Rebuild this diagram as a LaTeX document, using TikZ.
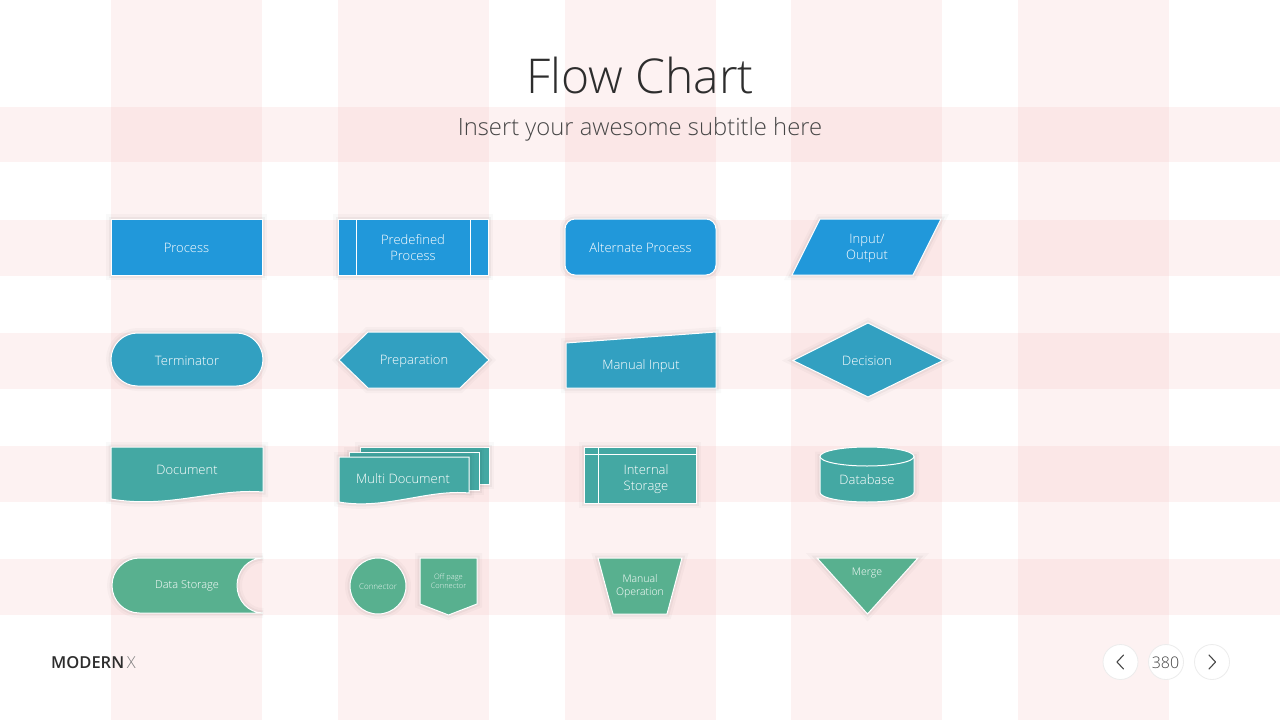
\documentclass[tikz,border=0pt]{standalone}
\usepackage{fontspec}
\IfFontExistsTF{Open Sans Light}{\setmainfont{Open Sans Light}}{\setmainfont{Open Sans}}
\IfFontExistsTF{Open Sans SemiBold}{\newfontfamily\semib{Open Sans SemiBold}}{%
  \IfFontExistsTF{Open Sans Semibold}{\newfontfamily\semib{Open Sans Semibold}}{%
    \newfontfamily\semib{Open Sans}[FakeBold=0.6]}}
\definecolor{cA}{RGB}{33,152,218}
\definecolor{cB}{RGB}{50,160,193}
\definecolor{cC}{RGB}{68,168,163}
\definecolor{cD}{RGB}{88,176,143}
\definecolor{stripe}{RGB}{246,196,196}
\definecolor{titlegray}{RGB}{45,45,45}
\definecolor{subgray}{RGB}{70,70,70}
\definecolor{ringgray}{RGB}{236,236,236}
\tikzset{
  shp/.style={fill=#1, draw=white, line width=1pt,
    preaction={draw=black, draw opacity=0.025, line width=10pt},
    preaction={draw=black, draw opacity=0.04, line width=5pt}},
  inner/.style={draw=white, line width=1pt},
  lbl/.style={text=white, font=\fontsize{13}{16}\selectfont, align=center, inner sep=0pt},
  stripefill/.style={fill=stripe, fill opacity=0.22},
  ring/.style={draw=ringgray, line width=0.8pt, fill=white},
  chev/.style={draw=subgray, line width=1.1pt, line cap=round, line join=round}
}
\begin{document}
\begin{tikzpicture}[x=1pt,y=-1pt]
\useasboundingbox (0,0) rectangle (1280,720);
\fill[white] (0,0) rectangle (1280,720);
% stripes
\foreach \a/\b in {111/262,338/489,565/716,791/942,1018/1169}
  \path[stripefill] (\a,0) rectangle (\b,720);
\foreach \a/\b in {107/162,220/276,333/389,446/502,559/615}
  \path[stripefill] (0,\a) rectangle (1280,\b);
% titles
\node[text=titlegray, font=\fontsize{48}{58}\selectfont, inner sep=0pt] (title) at (640,75) {Flow Chart};
\node[text=subgray, font=\fontsize{23.8}{28}\selectfont, inner sep=0pt] (subtitle) at (640,129) {Insert your awesome subtitle here};
% row 1
\path[shp=cA] (111,219) rectangle (262,275);
\node[lbl] (process) at (186.5,248) {Process};
\path[shp=cA] (338,219) rectangle (488,275);
\path[inner] (356,219) -- (356,275) (470,219) -- (470,275);
\node[lbl] (predef) at (413,248) {Predefined\\Process};
\path[shp=cA, rounded corners=10pt] (565,219) rectangle (716,275);
\node[lbl] (alt) at (640.5,248) {Alternate Process};
\path[shp=cA] (820,219) -- (941,219) -- (913,275) -- (792,275) -- cycle;
\node[lbl] (io) at (867,248) {Input/\\Output};
% row 2
\path[shp=cB, rounded corners=26.5pt] (111,333) rectangle (263,386);
\node[lbl] (term) at (187,361) {Terminator};
\path[shp=cB] (339,360) -- (368,332) -- (460,332) -- (489,360) -- (460,388) -- (368,388) -- cycle;
\node[lbl] (prep) at (414,361) {Preparation};
\path[shp=cB] (566,343) -- (716,332) -- (716,388) -- (566,388) -- cycle;
\node[lbl] (manin) at (641,366) {Manual Input};
\path[shp=cB] (793,360.5) -- (868,323) -- (943,360.5) -- (868,397) -- cycle;
\node[lbl] (dec) at (867,361) {Decision};
% row 3
\path[shp=cC] (111,447) -- (263,447) -- (263,492) .. controls (215,488) and (168,509) .. (111,499) -- cycle;
\node[lbl] (doc) at (187,470) {Document};
\path[shp=cC] (360,447) rectangle (489,484);
\path[shp=cC] (349,452) rectangle (479,490);
\path[shp=cC] (339,457) -- (469,457) -- (469,493) .. controls (428,489) and (385,510) .. (339,502) -- cycle;
\node[lbl] (multi) at (403,479) {Multi Document};
\path[shp=cC] (584,447) rectangle (696,503);
\path[inner] (598,447) -- (598,503) (584,454) -- (696,454);
\node[lbl] (intst) at (646,479) {Internal\\Storage};
\path[shp=cC] (820,456.5) -- (820,492.5) .. controls (820,497.75) and (841.04,502) .. (867,502) .. controls (892.96,502) and (914,497.75) .. (914,492.5) -- (914,456.5) -- cycle;
\path[fill=cC, draw=white, line width=1pt] (867,456.5) ellipse [x radius=47pt, y radius=9.5pt];
\node[lbl] (db) at (867,480) {Database};
% row 4
\path[shp=cD] (263,558) -- (139.5,558) .. controls (124.3,558) and (112,570.3) .. (112,585.5) .. controls (112,600.7) and (124.3,613) .. (139.5,613) -- (263,613) .. controls (248.6,613) and (237,600.7) .. (237,585.5) .. controls (237,570.3) and (248.6,558) .. (263,558) -- cycle;
\node[lbl, font=\fontsize{11}{13}\selectfont] (dstore) at (187,586) {Data Storage};
\path[shp=cD] (378,586) circle[radius=28pt];
\node[lbl, font=\fontsize{8}{10}\selectfont, text opacity=0.85] (conn) at (378,587) {Connector};
\path[shp=cD] (420,558) -- (477,558) -- (477,604) -- (448.5,615) -- (420,604) -- cycle;
\node[lbl, font=\fontsize{7.5}{9}\selectfont, text opacity=0.85] (offpage) at (448.5,581.5) {Off page\\Connector};
\path[shp=cD] (598,558) -- (682,558) -- (667,614) -- (613,614) -- cycle;
\node[lbl, font=\fontsize{10.5}{13}\selectfont] (manop) at (640,586.5) {Manual\\Operation};
\path[shp=cD] (817,558) -- (918,558) -- (867.5,614) -- cycle;
\node[lbl, font=\fontsize{10.5}{13}\selectfont] (merge) at (867,573) {Merge};
% footer
\node[anchor=base west, inner sep=0pt, font=\fontsize{16.5}{20}\selectfont] (brand) at (51,668.5) {{\semib\color{titlegray}MODERN}\,{\color{subgray!70}X}};
\path[ring] (1120.5,662) circle[radius=17.5pt];
\path[ring] (1166,662) circle[radius=17.5pt];
\path[ring] (1212,662) circle[radius=17.5pt];
\coordinate (pa) at (1123.5,655);
\coordinate (pb) at (1117,662);
\coordinate (pc) at (1123.5,669);
\path[chev] (pa) -- (pb) -- (pc);
\coordinate (na) at (1209,655);
\coordinate (nb) at (1215.5,662);
\coordinate (nc) at (1209,669);
\path[chev] (na) -- (nb) -- (nc);
\node[text=subgray, font=\fontsize{16}{20}\selectfont, inner sep=0pt] (pagenum) at (1165.5,662.5) {380};
\end{tikzpicture}
\end{document}
